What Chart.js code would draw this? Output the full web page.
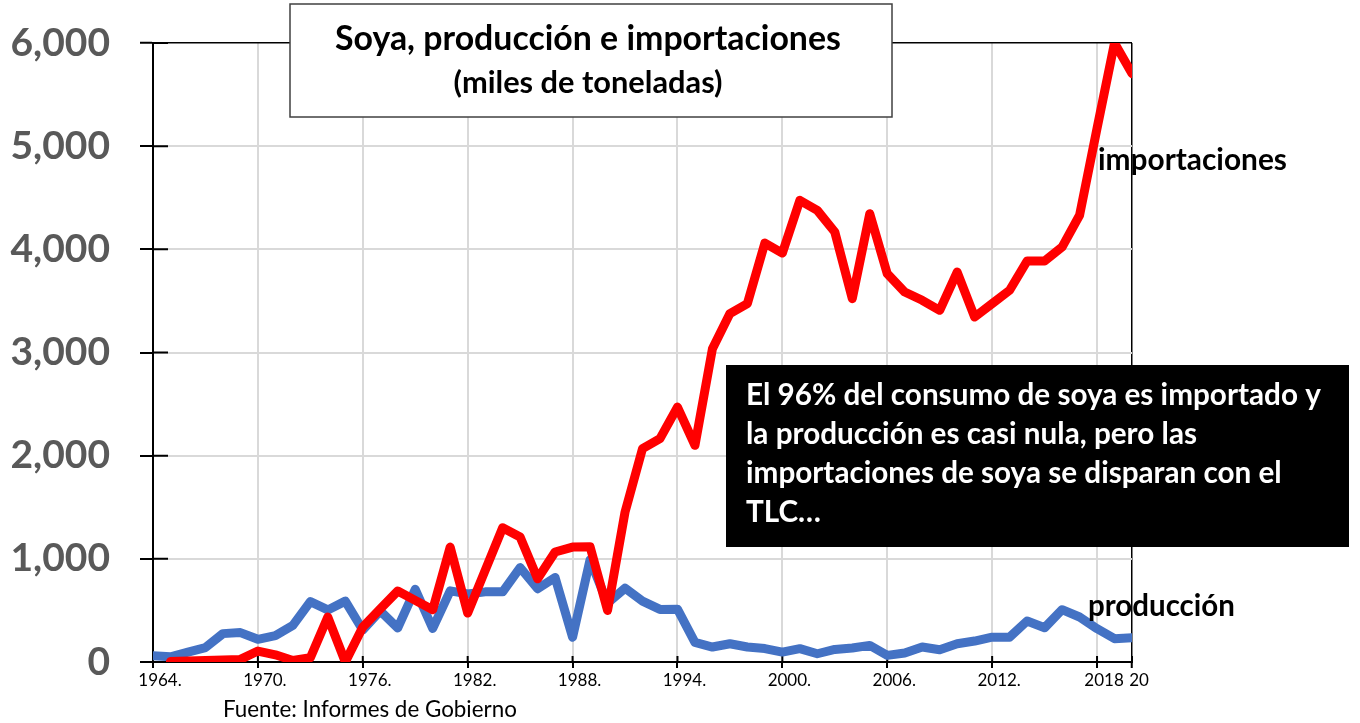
<!DOCTYPE html>
<html><head><meta charset="utf-8">
<script src="https://cdn.jsdelivr.net/npm/chart.js@4.4.1/dist/chart.umd.min.js"></script>
<style>html,body{margin:0;padding:0;background:#fff;}canvas{display:block;}</style>
</head><body>
<canvas id="c" width="1360" height="723"></canvas>
<script>
const years = [1964,1965,1966,1967,1968,1969,1970,1971,1972,1973,1974,1975,1976,1977,1978,1979,1980,1981,1982,1983,1984,1985,1986,1987,1988,1989,1990,1991,1992,1993,1994,1995,1996,1997,1998,1999,2000,2001,2002,2003,2004,2005,2006,2007,2008,2009,2010,2011,2012,2013,2014,2015,2016,2017,2018,2019,2020];
const produccion = [60,50,95,140,275,285,220,255,355,585,505,590,310,495,330,705,325,690,660,680,680,915,710,820,240,990,570,715,590,510,512,190,145,177,145,130,96,129,80,122,135,161,64,87,145,119,177,203,241,241,397,332,507,436,323,226,235];
const importaciones = [null,5,10,15,20,25,106,70,15,41,436,0,339,516,688,597,507,1114,474,888,1302,1211,807,1066,1114,1118,500,1453,2068,2165,2471,2100,3037,3377,3474,4061,3964,4475,4378,4168,3522,4346,3764,3586,3506,3409,3780,3344,3474,3603,3887,3887,4022,4330,5172,6000,5703];
const tickYears = [1964,1970,1976,1982,1988,1994,2000,2006,2012,2018,2020];
const tickLabels = ['1964.','1970.','1976.','1982.','1988.','1994.','2000.','2006.','2012.','2018','20'];
const yTickValues = [0,1000,2000,3000,4000,5000,6000];

const FAM = 'Lato, "Open Sans", sans-serif';

function fitSize(ctx, text, weight, width) {
  ctx.font = `${weight} 100px ${FAM}`;
  return 100 * width / ctx.measureText(text).width;
}
function drawText(ctx, text, weight, size, x, y, color, align) {
  ctx.font = `${weight} ${size}px ${FAM}`;
  ctx.fillStyle = color;
  ctx.textAlign = align || 'left';
  ctx.textBaseline = 'alphabetic';
  ctx.fillText(text, x, y);
}

const overlay = {
  id: 'overlay',
  beforeDatasetsDraw(chart) {
    const {ctx, chartArea: a, scales: {x, y}} = chart;
    ctx.save();
    ctx.strokeStyle = '#000'; ctx.lineWidth = 2;
    ctx.beginPath();
    y.ticks.forEach(t => { const py = y.getPixelForValue(t.value); ctx.moveTo(a.left, py); ctx.lineTo(a.left + 15, py); });
    x.ticks.forEach(t => { const px = x.getPixelForValue(t.value); ctx.moveTo(px, a.bottom); ctx.lineTo(px, a.bottom - 6); });
    ctx.stroke();
    ctx.restore();
  },
  afterDraw(chart) {
    const ctx = chart.ctx;
    ctx.save();
    ctx.fillStyle = '#fff';
    ctx.fillRect(290, 4, 602, 113);
    ctx.strokeStyle = '#404040'; ctx.lineWidth = 1.5;
    ctx.strokeRect(290, 4, 602, 113);
    const t1 = 'Soya, producción e importaciones';
    drawText(ctx, t1, 'bold', fitSize(ctx, t1, 'bold', 506), 588, 50, '#000', 'center');
    const t2 = '(miles de toneladas)';
    drawText(ctx, t2, 'bold', fitSize(ctx, t2, 'bold', 269), 588, 93, '#000', 'center');
    ctx.fillStyle = '#000';
    ctx.fillRect(726, 365, 623, 182);
    const lines = ['El 96% del consumo de soya es importado y','la producción es casi nula, pero las','importaciones de soya se disparan con el','TLC…'];
    const s = fitSize(ctx, lines[0], 'bold', 575);
    const base = [405, 444, 483, 522];
    lines.forEach((l, i) => drawText(ctx, l, 'bold', s, 746, base[i], '#fff'));
    const li = 'importaciones';
    drawText(ctx, li, 'bold', fitSize(ctx, li, 'bold', 189), 1098, 170, '#000');
    const lp = 'producción';
    drawText(ctx, lp, 'bold', fitSize(ctx, lp, 'bold', 147), 1088, 616, '#000');
    const src = 'Fuente: Informes de Gobierno';
    drawText(ctx, src, 'normal', fitSize(ctx, src, 'normal', 294), 223, 717, '#000');
    ctx.restore();
  }
};

function build() {
  new Chart(document.getElementById('c'), {
    type: 'line',
    data: {
      datasets: [
        { label: 'importaciones', data: years.map((yr, i) => ({x: yr, y: importaciones[i]})), borderColor: '#FF0000', borderWidth: 9, pointRadius: 0, borderJoinStyle: 'round', borderCapStyle: 'round', tension: 0, clip: 0, spanGaps: false },
        { label: 'producción', data: years.map((yr, i) => ({x: yr, y: produccion[i]})), borderColor: '#4472C4', borderWidth: 9, pointRadius: 0, borderJoinStyle: 'round', borderCapStyle: 'round', tension: 0, clip: 0 }
      ]
    },
    options: {
      responsive: false,
      animation: false,
      events: [],
      layout: { padding: { left: 0, top: 43, right: 228, bottom: 0 } },
      plugins: { legend: { display: false }, tooltip: { enabled: false }, title: { display: false } },
      scales: {
        x: {
          type: 'linear', min: 1964, max: 2020,
          afterBuildTicks: (sc) => { sc.ticks = tickYears.map(v => ({value: v})); },
          afterFit: (sc) => { sc.height = 61; sc.paddingLeft = 0; sc.paddingRight = 0; },
          ticks: {
            autoSkip: false, maxRotation: 0, minRotation: 0, padding: 2, labelOffset: 7,
            color: '#000', font: { family: FAM, size: 17 },
            callback: (v) => { const i = tickYears.indexOf(v); return i >= 0 ? tickLabels[i] : ''; }
          },
          grid: {
            color: (c) => c.tick && c.tick.value === 2020 ? '#000' : (c.tick && c.tick.value === 1964 ? 'rgba(0,0,0,0)' : '#d9d9d9'),
            lineWidth: (c) => c.tick && c.tick.value === 2020 ? 1.5 : 2,
            tickColor: '#000', tickLength: 6, tickWidth: 2, drawTicks: true
          },
          border: { color: '#000', width: 2 }
        },
        y: {
          min: 0, max: 6000,
          afterBuildTicks: (sc) => { sc.ticks = yTickValues.map(v => ({value: v})); },
          afterFit: (sc) => { sc.width = 153; sc.paddingTop = 0; sc.paddingBottom = 0; },
          ticks: {
            padding: 30, color: '#595959', font: { family: FAM, size: 39, weight: 'bold' },
            callback: (v) => v.toLocaleString('en-US')
          },
          grid: {
            color: (c) => c.tick && c.tick.value === 6000 ? '#000' : (c.tick && c.tick.value === 0 ? 'rgba(0,0,0,0)' : '#d9d9d9'),
            lineWidth: (c) => c.tick && c.tick.value === 6000 ? 1.5 : 2,
            tickColor: '#000', tickLength: 13, tickWidth: 2
          },
          border: { color: '#000', width: 2 }
        }
      }
    },
    plugins: [overlay]
  });
}
Promise.all([
  document.fonts.load(`bold 20px Lato`),
  document.fonts.load(`normal 20px Lato`)
]).then(build, build);
</script>
</body></html>
